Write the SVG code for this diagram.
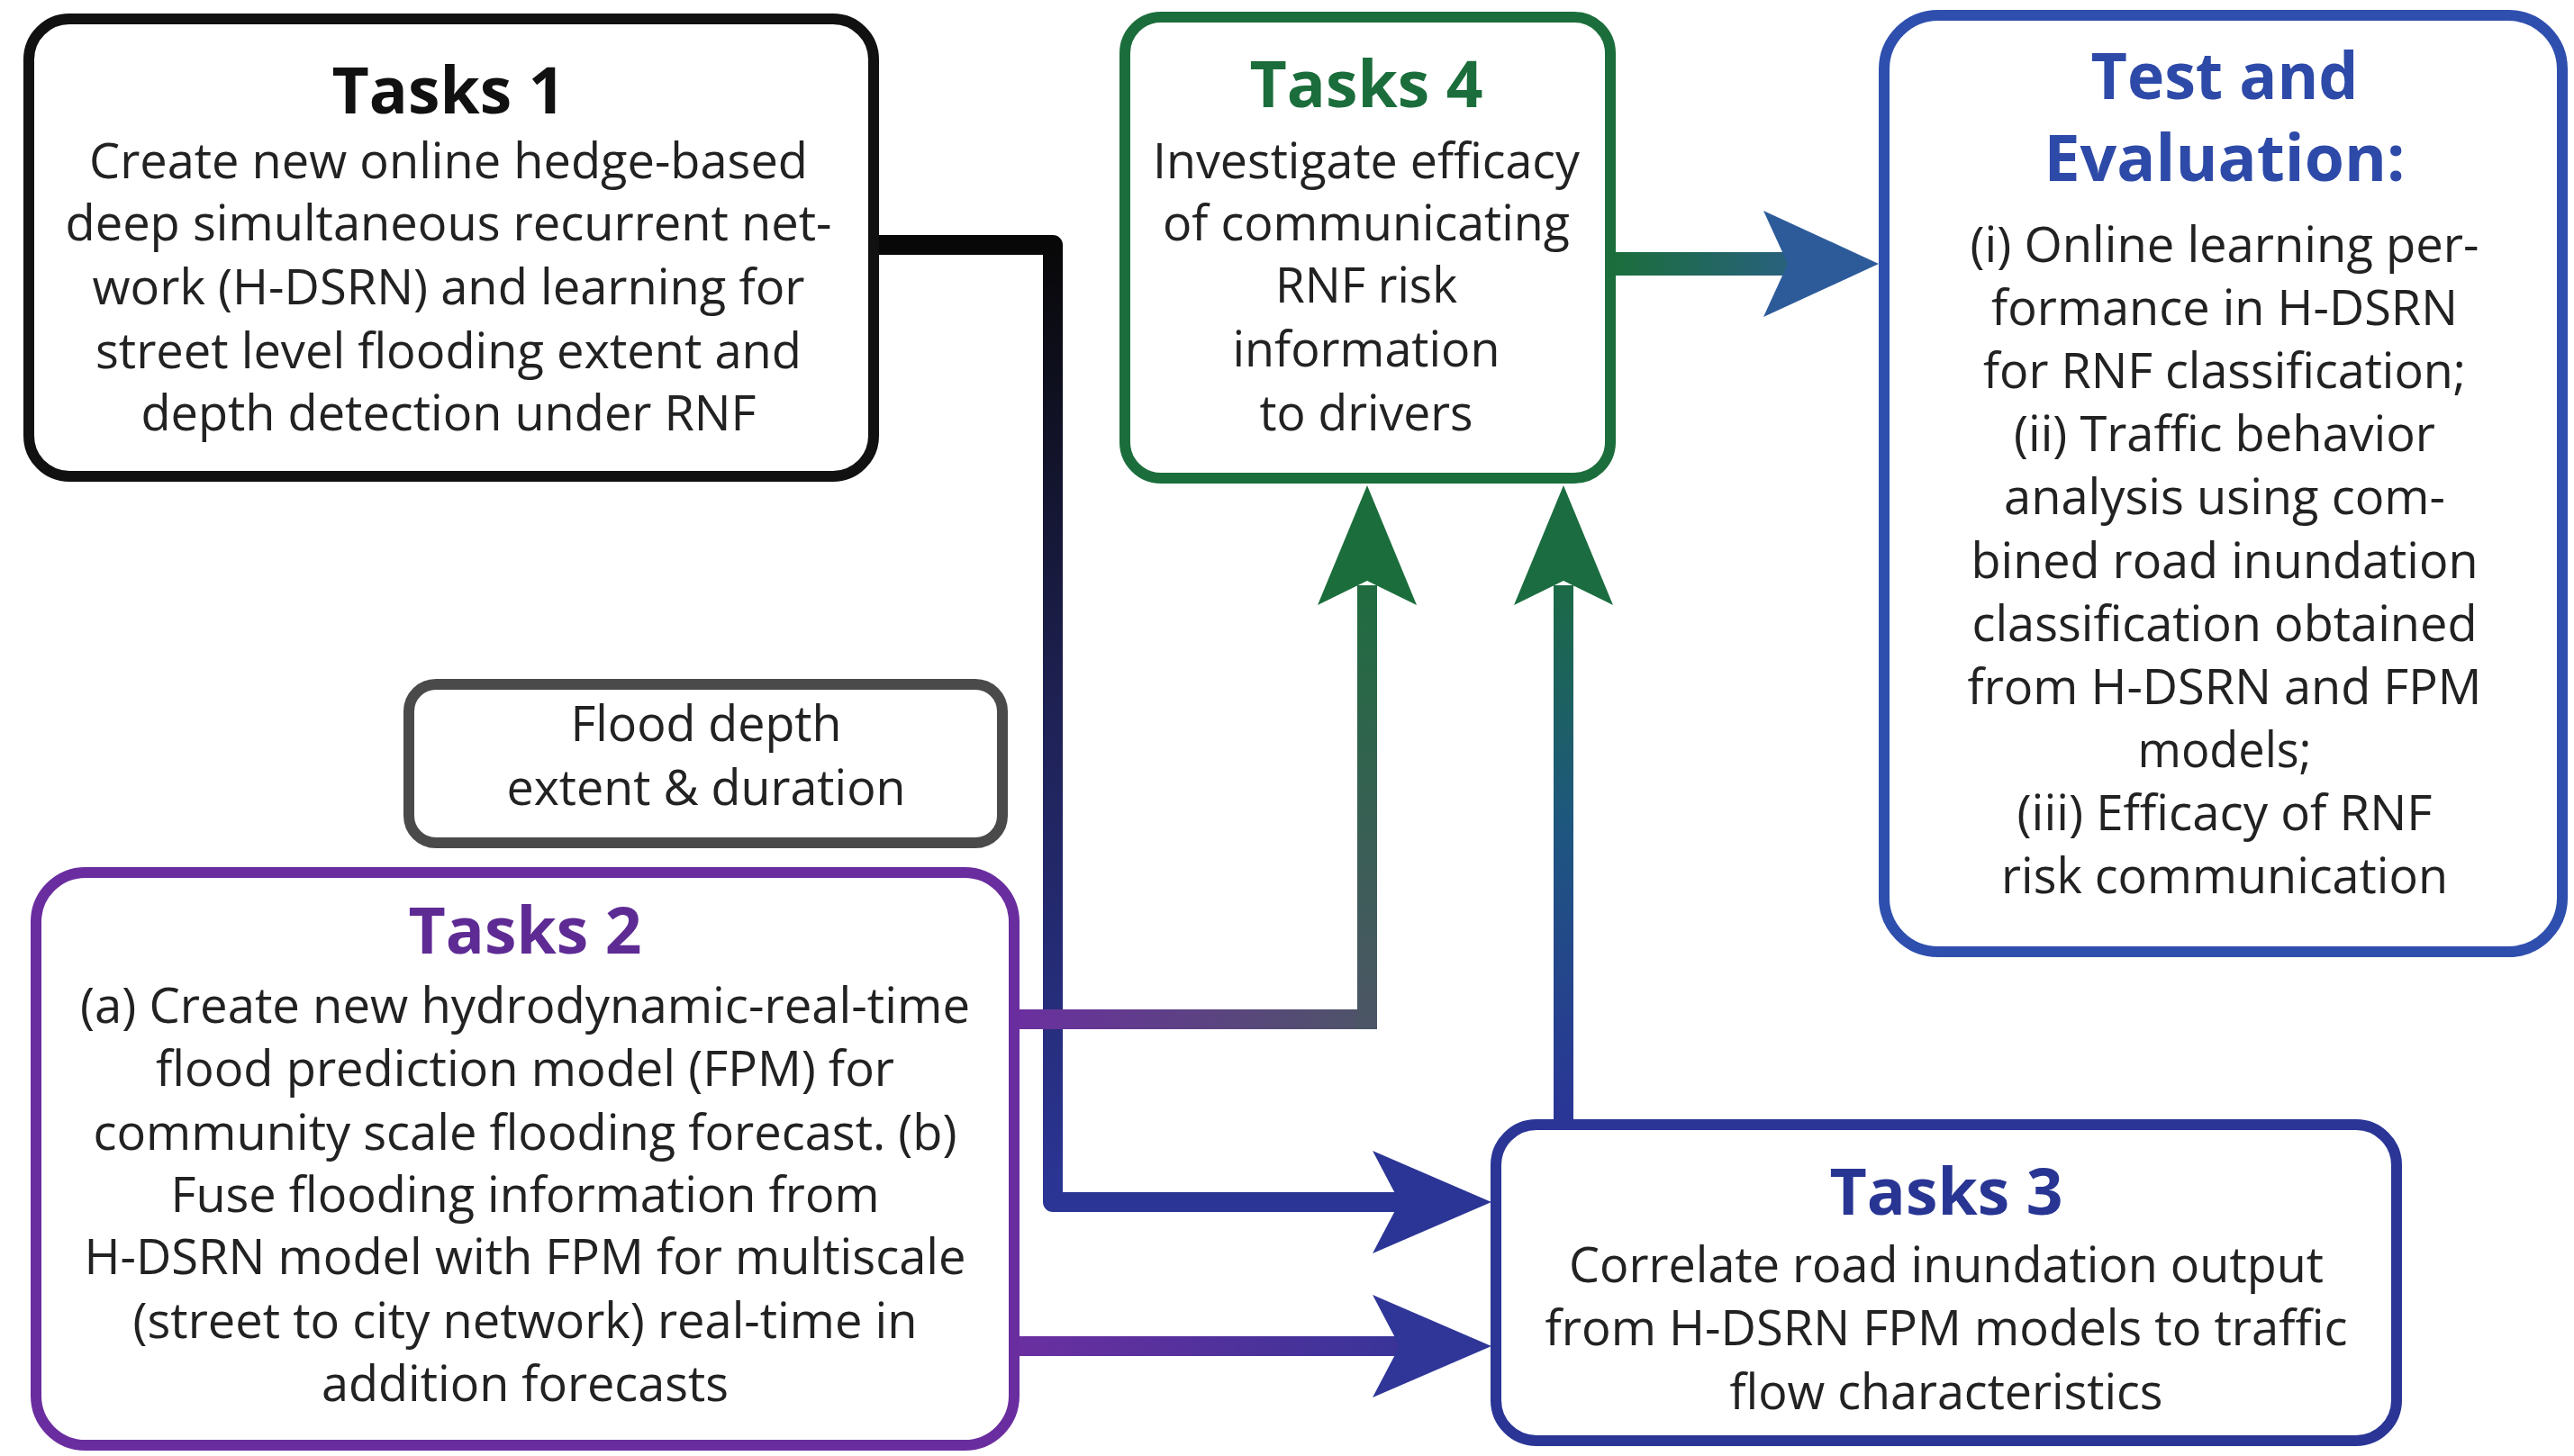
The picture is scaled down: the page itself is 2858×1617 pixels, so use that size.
<svg xmlns="http://www.w3.org/2000/svg" width="2858" height="1617" viewBox="0 0 2858 1617">
<defs>
<style>
.box{fill:#fff;stroke-width:12}
.t{font-family:"Open Sans","Noto Sans","Liberation Sans",sans-serif;text-anchor:middle}
.title{font-size:72px;font-weight:700}
.body{font-size:54px;fill:#222}
.wire{fill:none;stroke-linejoin:round;stroke-linecap:butt}
</style>
<linearGradient id="g1" gradientUnits="userSpaceOnUse" x1="0" y1="272" x2="0" y2="1335"><stop offset="0" stop-color="#080808"/><stop offset="0.5" stop-color="#1f2256"/><stop offset="1" stop-color="#2b3595"/></linearGradient>
<linearGradient id="g2h" gradientUnits="userSpaceOnUse" x1="1126" y1="0" x2="1529" y2="0"><stop offset="0" stop-color="#6b2fa0"/><stop offset="1" stop-color="#4d5566"/></linearGradient>
<linearGradient id="g2v" gradientUnits="userSpaceOnUse" x1="0" y1="1143" x2="0" y2="600"><stop offset="0" stop-color="#4d5566"/><stop offset="1" stop-color="#1b6e3b"/></linearGradient>
<linearGradient id="g3v" gradientUnits="userSpaceOnUse" x1="0" y1="1243" x2="0" y2="600"><stop offset="0" stop-color="#2a3596"/><stop offset="0.5" stop-color="#1e5680"/><stop offset="1" stop-color="#1b6e3b"/></linearGradient>
<linearGradient id="g4" gradientUnits="userSpaceOnUse" x1="1126" y1="0" x2="1660" y2="0"><stop offset="0" stop-color="#6b2fa0"/><stop offset="1" stop-color="#2d3596"/></linearGradient>
<linearGradient id="g5" gradientUnits="userSpaceOnUse" x1="1790" y1="0" x2="2086" y2="0"><stop offset="0" stop-color="#1b6e3b"/><stop offset="1" stop-color="#2f5aa0"/></linearGradient>
</defs>
<rect width="2858" height="1617" fill="#fff"/>

<g id="connectors">
<path class="wire" d="M972,272 H1169 V1335 H1560" stroke="url(#g1)" stroke-width="22"/>
<polygon points="1656,1335 1524,1278 1554,1335 1524,1392" fill="#2b3595"/>
<path class="wire" d="M1126,1132 H1529" stroke="url(#g2h)" stroke-width="22"/>
<path class="wire" d="M1518,1143 V650" stroke="url(#g2v)" stroke-width="22"/>
<polygon points="1518,539 1463,672 1518,645 1573,672" fill="#1b6e3b"/>
<path class="wire" d="M1736,1243 V650" stroke="url(#g3v)" stroke-width="22"/>
<polygon points="1736,539 1681,672 1736,645 1791,672" fill="#1b6c40"/>
<path class="wire" d="M1126,1495 H1560" stroke="url(#g4)" stroke-width="22"/>
<polygon points="1656,1495 1524,1438 1554,1495 1524,1552" fill="#2f3698"/>
<path class="wire" d="M1790,293 H2000" stroke="url(#g5)" stroke-width="26"/>
<polygon points="2086,293 1958,234 1985,293 1958,352" fill="#2d5b9a"/>
</g>

<g id="tasks1">
<rect class="box" x="32" y="21" width="938" height="508" rx="45" stroke="#111" stroke-width="14"/>
<text class="t title" x="498" y="126" fill="#111" textLength="259" lengthAdjust="spacingAndGlyphs">Tasks 1</text>
<text class="t body" x="498" y="198" textLength="798" lengthAdjust="spacingAndGlyphs">Create new online hedge-based</text>
<text class="t body" x="498" y="267" textLength="851" lengthAdjust="spacingAndGlyphs">deep simultaneous recurrent net-</text>
<text class="t body" x="498" y="338" textLength="791" lengthAdjust="spacingAndGlyphs">work (H-DSRN) and learning for</text>
<text class="t body" x="498" y="409" textLength="784" lengthAdjust="spacingAndGlyphs">street level flooding extent and</text>
<text class="t body" x="498" y="478" textLength="683" lengthAdjust="spacingAndGlyphs">depth detection under RNF</text>
</g>

<g id="tasks4">
<rect class="box" x="1249" y="19" width="539" height="512" rx="40" stroke="#1b6e3b"/>
<text class="t title" x="1517" y="119" fill="#1b6e3b" textLength="259" lengthAdjust="spacingAndGlyphs">Tasks 4</text>
<text class="t body" x="1517" y="198" textLength="474" lengthAdjust="spacingAndGlyphs">Investigate efficacy</text>
<text class="t body" x="1517" y="267" textLength="452" lengthAdjust="spacingAndGlyphs">of communicating</text>
<text class="t body" x="1517" y="336" textLength="202" lengthAdjust="spacingAndGlyphs">RNF risk</text>
<text class="t body" x="1517" y="407" textLength="297" lengthAdjust="spacingAndGlyphs">information</text>
<text class="t body" x="1517" y="478" textLength="237" lengthAdjust="spacingAndGlyphs">to drivers</text>
</g>

<g id="test-evaluation">
<rect class="box" x="2092" y="17" width="753" height="1040" rx="60" stroke="#2f4fae"/>
<text class="t title" x="2470" y="110" fill="#2e4aa8" textLength="297" lengthAdjust="spacingAndGlyphs">Test and</text>
<text class="t title" x="2470" y="201" fill="#2e4aa8" textLength="401" lengthAdjust="spacingAndGlyphs">Evaluation:</text>
<text class="t body" x="2470" y="291" textLength="565" lengthAdjust="spacingAndGlyphs">(i) Online learning per-</text>
<text class="t body" x="2470" y="361" textLength="518" lengthAdjust="spacingAndGlyphs">formance in H-DSRN</text>
<text class="t body" x="2470" y="431" textLength="536" lengthAdjust="spacingAndGlyphs">for RNF classification;</text>
<text class="t body" x="2470" y="501" textLength="468" lengthAdjust="spacingAndGlyphs">(ii) Traffic behavior</text>
<text class="t body" x="2470" y="571" textLength="490" lengthAdjust="spacingAndGlyphs">analysis using com-</text>
<text class="t body" x="2470" y="642" textLength="563" lengthAdjust="spacingAndGlyphs">bined road inundation</text>
<text class="t body" x="2470" y="712" textLength="561" lengthAdjust="spacingAndGlyphs">classification obtained</text>
<text class="t body" x="2470" y="782" textLength="571" lengthAdjust="spacingAndGlyphs">from H-DSRN and FPM</text>
<text class="t body" x="2470" y="852" textLength="193" lengthAdjust="spacingAndGlyphs">models;</text>
<text class="t body" x="2470" y="922" textLength="461" lengthAdjust="spacingAndGlyphs">(iii) Efficacy of RNF</text>
<text class="t body" x="2470" y="992" textLength="496" lengthAdjust="spacingAndGlyphs">risk communication</text>
</g>

<g id="flood-depth">
<rect class="box" x="454" y="760" width="659" height="176" rx="30" stroke="#4a4a4a"/>
<text class="t body" x="784" y="823" textLength="301" lengthAdjust="spacingAndGlyphs">Flood depth</text>
<text class="t body" x="784" y="894" textLength="443" lengthAdjust="spacingAndGlyphs">extent &amp; duration</text>
</g>

<g id="tasks2">
<rect class="box" x="40" y="969" width="1086" height="636" rx="55" stroke="#6a2d9f"/>
<text class="t title" x="583" y="1059" fill="#5e2b94" textLength="259" lengthAdjust="spacingAndGlyphs">Tasks 2</text>
<text class="t body" x="583" y="1136" textLength="988" lengthAdjust="spacingAndGlyphs">(a) Create new hydrodynamic-real-time</text>
<text class="t body" x="583" y="1206" textLength="820" lengthAdjust="spacingAndGlyphs">flood prediction model (FPM) for</text>
<text class="t body" x="583" y="1277" textLength="959" lengthAdjust="spacingAndGlyphs">community scale flooding forecast. (b)</text>
<text class="t body" x="583" y="1346" textLength="787" lengthAdjust="spacingAndGlyphs">Fuse flooding information from</text>
<text class="t body" x="583" y="1415" textLength="979" lengthAdjust="spacingAndGlyphs">H-DSRN model with FPM for multiscale</text>
<text class="t body" x="583" y="1486" textLength="871" lengthAdjust="spacingAndGlyphs">(street to city network) real-time in</text>
<text class="t body" x="583" y="1556" textLength="452" lengthAdjust="spacingAndGlyphs">addition forecasts</text>
</g>

<g id="tasks3">
<rect class="box" x="1661" y="1249" width="1000" height="351" rx="45" stroke="#2a3596"/>
<text class="t title" x="2161" y="1349" fill="#283593" textLength="259" lengthAdjust="spacingAndGlyphs">Tasks 3</text>
<text class="t body" x="2161" y="1424" textLength="838" lengthAdjust="spacingAndGlyphs">Correlate road inundation output</text>
<text class="t body" x="2161" y="1494" textLength="891" lengthAdjust="spacingAndGlyphs">from H-DSRN FPM models to traffic</text>
<text class="t body" x="2161" y="1565" textLength="481" lengthAdjust="spacingAndGlyphs">flow characteristics</text>
</g>
</svg>
